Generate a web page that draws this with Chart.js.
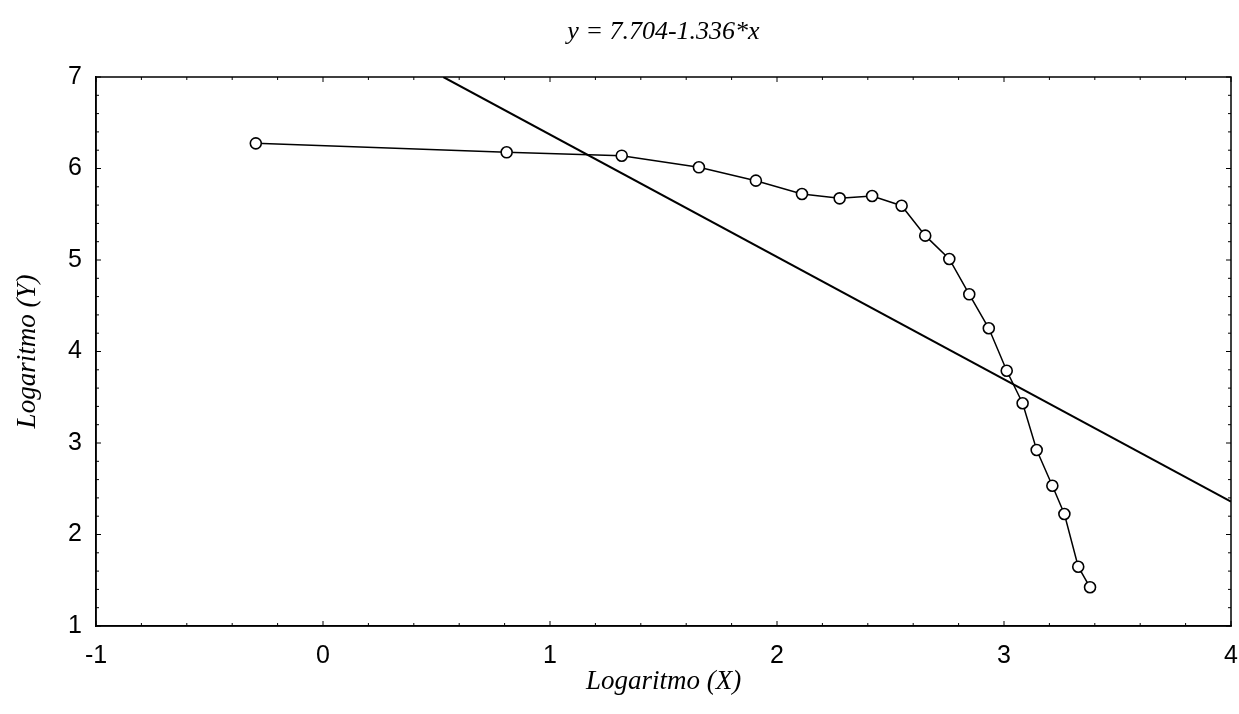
<!DOCTYPE html>
<html>
<head>
<meta charset="utf-8">
<script src="https://cdn.jsdelivr.net/npm/chart.js@4.4.0/dist/chart.umd.min.js"></script>
<style>
body { margin: 0; background: #fff; }
#chart1 { display: block; }
</style>
</head>
<body>
<canvas id="chart1" width="1239" height="714"></canvas>
<script>
// values
var log_x = [-0.296, 0.809, 1.316, 1.656, 1.907, 2.110, 2.276, 2.419, 2.549, 2.653,
             2.759, 2.847, 2.933, 3.012, 3.082, 3.144, 3.213, 3.266, 3.327, 3.379]
var log_y = [6.275, 6.177, 6.140, 6.013, 5.867, 5.721, 5.674, 5.699, 5.593, 5.266,
             5.011, 4.625, 4.254, 3.790, 3.434, 2.923, 2.533, 2.224, 1.648, 1.423]
var fit_x = [0.53, 4.0]
var fit_y = [7.0, 2.36]
var x_ticks = [-1, 0, 1, 2, 3, 4]
var y_ticks = [1, 2, 3, 4, 5, 6, 7]

function make_points(xs, ys){
    pts = []
    xs.forEach((x, i) => {
        pts.push({x: x, y: ys[i]})
    })
    return pts
}

// box round the plot plus small inward ticks
const frame_plugin = {
    id: 'frame',
    afterDraw(chart) {
        const ctx = chart.ctx
        const a = chart.chartArea
        const xs = chart.scales.x
        const ys = chart.scales.y
        ctx.save()
        ctx.strokeStyle = '#000'
        ctx.lineWidth = 1.5
        ctx.strokeRect(a.left, a.top, a.right - a.left, a.bottom - a.top)
        ctx.lineWidth = 1
        for (let v = 1; v <= 7.001; v += 0.2) {
            const py = ys.getPixelForValue(v)
            const len = Math.abs(v - Math.round(v)) < 0.01 ? 5 : 3
            ctx.beginPath()
            ctx.moveTo(a.left, py); ctx.lineTo(a.left + len, py)
            ctx.moveTo(a.right, py); ctx.lineTo(a.right - len, py)
            ctx.stroke()
        }
        for (let v = -1; v <= 4.001; v += 0.2) {
            const px = xs.getPixelForValue(v)
            const len = Math.abs(v - Math.round(v)) < 0.01 ? 5 : 3
            ctx.beginPath()
            ctx.moveTo(px, a.bottom); ctx.lineTo(px, a.bottom - len)
            ctx.moveTo(px, a.top); ctx.lineTo(px, a.top + len)
            ctx.stroke()
        }
        ctx.restore()
    }
}

var serif_family = "'Liberation Serif', 'DejaVu Serif', serif"
var title_font = {family: serif_family, style: 'italic', weight: 'normal', size: 26}
var axis_font = {family: serif_family, style: 'italic', weight: 'normal', size: 27}
var tick_font = {family: "'Liberation Sans', Arial, sans-serif", size: 25}

const ctx1 = document.getElementById('chart1')
const myChart = new Chart(ctx1, {
    type: 'scatter',
    data: {
        datasets: [{
            data: make_points(fit_x, fit_y),
            showLine: true,
            borderColor: '#000',
            borderWidth: 2,
            pointRadius: 0
        }, {
            data: make_points(log_x, log_y),
            showLine: true,
            borderColor: '#000',
            borderWidth: 1.5,
            pointRadius: 5.5,
            pointBorderWidth: 1.6,
            pointBackgroundColor: '#fff',
            pointBorderColor: '#000'
        }]
    },
    options: {
        responsive: false,
        animation: false,
        layout: {
            padding: {top: 0, right: 8, bottom: 0, left: 0}
        },
        scales: {
            x: {
                type: 'linear',
                min: -1,
                max: 4,
                afterFit: (s) => { s.height = 88; s.paddingRight = 0; s.paddingLeft = 0 },
                afterBuildTicks: (s) => { s.ticks = x_ticks.map(v => ({value: v})) },
                grid: {display: false, drawTicks: false},
                border: {display: true, color: '#000', width: 1.5},
                ticks: {color: '#000', font: tick_font, padding: 15},
                title: {
                    display: true,
                    text: 'Logaritmo (X)',
                    color: '#000',
                    font: axis_font,
                    padding: {top: 0, bottom: 16}
                }
            },
            y: {
                type: 'linear',
                min: 1,
                max: 7,
                afterFit: (s) => { s.width = 96; s.paddingTop = 0; s.paddingBottom = 0 },
                afterBuildTicks: (s) => { s.ticks = y_ticks.map(v => ({value: v})) },
                grid: {display: false, drawTicks: false},
                border: {display: true, color: '#000', width: 1.5},
                ticks: {color: '#000', font: tick_font, padding: 14},
                title: {
                    display: true,
                    text: 'Logaritmo (Y)',
                    color: '#000',
                    font: axis_font,
                    padding: {top: 12, bottom: 0}
                }
            }
        },
        plugins: {
            title: {
                display: true,
                fullSize: false,
                text: 'y = 7.704-1.336*x',
                color: '#000',
                font: title_font,
                padding: {top: 17, bottom: 28.8}
            },
            legend: {
                display: false
            },
            tooltip: {
                enabled: false
            }
        }
    },
    plugins: [frame_plugin]
});
</script>
</body>
</html>
